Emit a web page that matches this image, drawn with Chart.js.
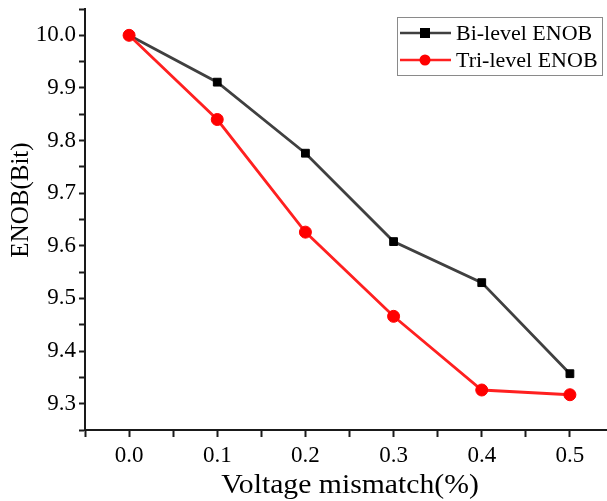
<!DOCTYPE html>
<html>
<head>
<meta charset="utf-8">
<script src="https://cdn.jsdelivr.net/npm/chart.js@4"></script>
<style>
  html, body { margin: 0; padding: 0; background: #fff; overflow: hidden; }
  #chart { display: block; }
</style>
</head>
<body>
<canvas id="chart" width="621" height="501"></canvas>
<script>
// Data
const mismatch = [0.0, 0.1, 0.2, 0.3, 0.4, 0.5];
const biLevel = [10.0, 9.911, 9.776, 9.608, 9.530, 9.357];
const triLevel = [10.0, 9.840, 9.626, 9.466, 9.326, 9.317];
const seriesNames = ['Bi-level ENOB', 'Tri-level ENOB'];

const serif = "'Liberation Serif', 'Times New Roman', serif";
const axisColor = '#1a1a1a';

function toPoints(xs, ys) {
    return xs.map((x, i) => ({ x: x, y: ys[i] }));
}

function majorLabel(v) {
    const n = Math.round(v * 100);
    return n % 10 === 0 ? (n / 100).toFixed(1) : '';
}

// axis titles and legend box drawn by hand
const extras = {
    id: 'extras',
    afterDraw(chart) {
        const ctx = chart.ctx;
        ctx.save();
        ctx.fillStyle = '#000';
        ctx.textAlign = 'center';
        ctx.textBaseline = 'middle';

        // the original text looks a bit wide, so stretch it slightly
        ctx.save();
        ctx.translate(350, 486);
        ctx.scale(1.1, 1);
        ctx.font = '27px ' + serif;
        ctx.fillText('Voltage mismatch(%)', 0, 0);
        ctx.restore();

        ctx.save();
        ctx.translate(21, 200);
        ctx.rotate(-Math.PI / 2);
        ctx.font = '25px ' + serif;
        ctx.fillText('ENOB(Bit)', 0, 0);
        ctx.restore();

        // legend
        ctx.strokeStyle = '#8a8a8a';
        ctx.lineWidth = 1;
        ctx.fillStyle = '#fff';
        ctx.fillRect(397.5, 17.5, 205, 58);
        ctx.strokeRect(397.5, 17.5, 205, 58);

        const rows = [
            { y: 33, color: '#404040', mark: '#000', square: true },
            { y: 60, color: '#ff2020', mark: '#ff0000', square: false }
        ];
        rows.forEach((r, i) => {
            ctx.strokeStyle = r.color;
            ctx.lineWidth = 2.5;
            ctx.beginPath();
            ctx.moveTo(400, r.y);
            ctx.lineTo(451, r.y);
            ctx.stroke();
            ctx.fillStyle = r.mark;
            if (r.square) {
                ctx.fillRect(420, r.y - 5, 10, 10);
            } else {
                ctx.beginPath();
                ctx.arc(425, r.y, 5.5, 0, Math.PI * 2);
                ctx.fill();
            }
            ctx.fillStyle = '#000';
            ctx.textAlign = 'left';
            ctx.font = '22px ' + serif;
            ctx.fillText(seriesNames[i], 456, r.y + 1);
        });
        ctx.restore();
    }
};

new Chart(document.getElementById('chart'), {
    type: 'line',
    data: {
        datasets: [
            {
                label: seriesNames[0],
                data: toPoints(mismatch, biLevel),
                borderColor: '#404040',
                borderWidth: 2.8,
                pointStyle: 'rect',
                pointRadius: 5.5,
                pointBackgroundColor: '#000',
                pointBorderColor: '#000',
                pointBorderWidth: 1,
                order: 1
            },
            {
                label: seriesNames[1],
                data: toPoints(mismatch, triLevel),
                borderColor: '#ff2020',
                borderWidth: 2.8,
                pointStyle: 'circle',
                pointRadius: 6,
                pointBackgroundColor: '#ff0000',
                pointBorderColor: '#ff0000',
                pointBorderWidth: 1,
                order: 0
            }
        ]
    },
    options: {
        responsive: false,
        animation: false,
        layout: { padding: { top: 9, right: 0, left: 0, bottom: 0 } },
        plugins: {
            legend: { display: false },
            tooltip: { enabled: false }
        },
        scales: {
            x: {
                type: 'linear',
                min: -0.05,
                max: 0.55,
                afterBuildTicks(scale) {
                    scale.ticks = [];
                    for (let i = -1; i <= 11; i++) scale.ticks.push({ value: i * 0.05 });
                },
                afterFit(scale) {
                    scale.height = 71;
                    scale.paddingLeft = 0;
                    scale.paddingRight = 0;
                },
                border: { display: true, color: axisColor, width: 2 },
                grid: { drawOnChartArea: false, tickLength: 7, tickWidth: 2, tickColor: axisColor },
                ticks: {
                    callback: majorLabel,
                    autoSkip: false,
                    maxRotation: 0,
                    padding: 5,
                    color: '#000',
                    font: { family: serif, size: 23 }
                }
            },
            y: {
                min: 9.25,
                max: 10.05,
                afterBuildTicks(scale) {
                    scale.ticks = [];
                    for (let i = 0; i <= 16; i++) scale.ticks.push({ value: 9.25 + i * 0.05 });
                },
                afterFit(scale) {
                    scale.width = 85;
                    scale.paddingTop = 0;
                    scale.paddingBottom = 0;
                },
                border: { display: true, color: axisColor, width: 2 },
                grid: { drawOnChartArea: false, tickLength: 6, tickWidth: 2, tickColor: axisColor },
                ticks: {
                    callback: majorLabel,
                    autoSkip: false,
                    padding: 3,
                    color: '#000',
                    font: { family: serif, size: 23 }
                }
            }
        }
    },
    plugins: [extras]
});
</script>
</body>
</html>
